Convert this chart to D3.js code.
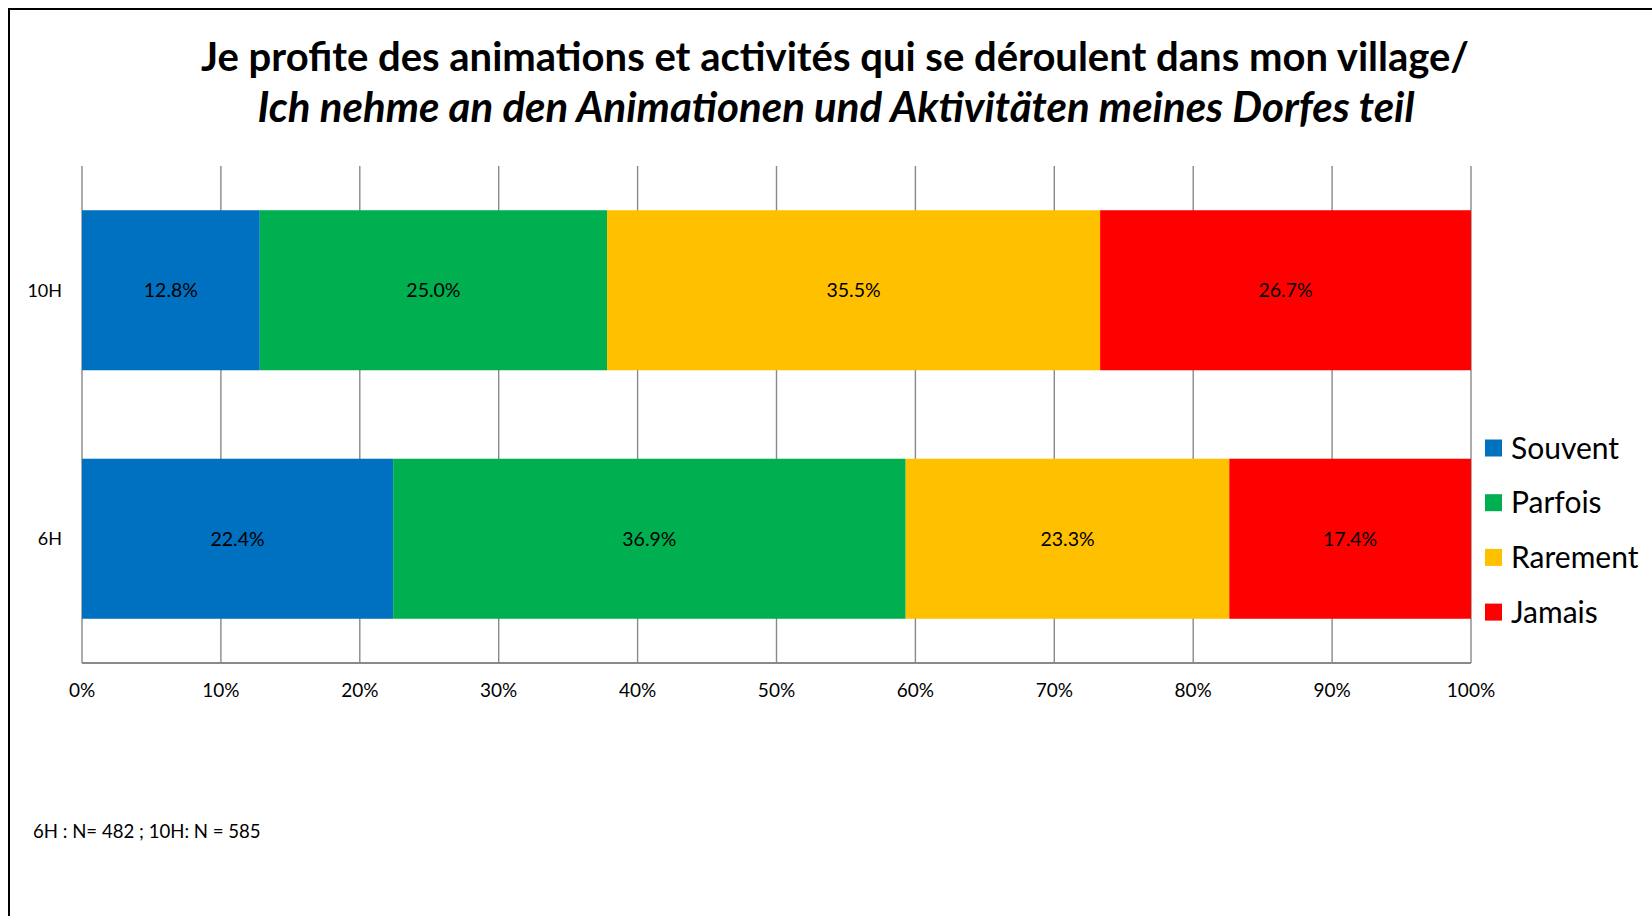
<!DOCTYPE html>
<html>
<head>
<meta charset="utf-8">
<style>
body { margin: 0; background: #fff; }
text { font-family: Lato, "Open Sans", sans-serif; fill: #000; }
.grid line { stroke: #898989; stroke-width: 1.4px; }
.axis-line { stroke: #898989; stroke-width: 2px; }
</style>
</head>
<body>
<svg width="1652" height="916"></svg>
<script src="https://cdn.jsdelivr.net/npm/d3@7"></script>
<script>
// data
var categories = ["10H", "6H"];
var answers = ["Souvent", "Parfois", "Rarement", "Jamais"];
var colors = ["#0070C0", "#00B050", "#FFC000", "#FF0000"];
var values10H = [12.8, 25.0, 35.5, 26.7];
var values6H = [22.4, 36.9, 23.3, 17.4];
var ticks = [0, 10, 20, 30, 40, 50, 60, 70, 80, 90, 100];
var titleFr = "Je profite des animations et activités qui se déroulent dans mon village/";
var titleDe = "Ich nehme an den Animationen und Aktivitäten meines Dorfes teil";
var footnote = "6H : N= 482 ; 10H: N = 585";

var rows = [
  { cat: "10H", vals: values10H },
  { cat: "6H", vals: values6H }
];

var svg = d3.select("svg");

// frame
svg.append("rect")
    .attr("x", 9).attr("y", 9)
    .attr("width", 1700).attr("height", 1000)
    .attr("fill", "none")
    .attr("stroke", "#000")
    .attr("stroke-width", 2);

var x = d3.scaleLinear().domain([0, 100]).range([82, 1471]);
var y = d3.scaleBand().domain(categories).range([166, 663])
    .paddingInner(0.356).paddingOuter(0.178);

// title
svg.append("text")
    .attr("x", 835).attr("y", 71)
    .attr("text-anchor", "middle")
    .style("font-size", "40px").style("font-weight", "bold")
    .text(titleFr);
svg.append("text")
    .attr("x", 836).attr("y", 122)
    .attr("text-anchor", "middle")
    .style("font-size", "42px").style("font-weight", "bold").style("font-style", "italic")
    .text(titleDe);

// gridlines
svg.append("g").attr("class", "grid")
  .selectAll("line")
  .data(ticks)
  .enter().append("line")
    .attr("x1", function(d) { return x(d); })
    .attr("x2", function(d) { return x(d); })
    .attr("y1", 166)
    .attr("y2", 663);

// stacked bars
rows.forEach(function(r) {
  var start = 0;
  var segs = r.vals.map(function(v, i) {
    var s = { x0: start, x1: start + v, v: v, i: i };
    start += v;
    return s;
  });
  var g = svg.append("g");
  g.selectAll("rect")
    .data(segs)
    .enter().append("rect")
      .attr("x", function(d) { return x(d.x0); })
      .attr("width", function(d) { return x(Math.min(d.x1, 100)) - x(d.x0); })
      .attr("y", y(r.cat))
      .attr("height", y.bandwidth())
      .attr("fill", function(d) { return colors[d.i]; });
  g.selectAll("text")
    .data(segs)
    .enter().append("text")
      .attr("x", function(d) { return x((d.x0 + Math.min(d.x1, 100)) / 2); })
      .attr("y", y(r.cat) + y.bandwidth() / 2)
      .attr("dy", "0.35em")
      .attr("text-anchor", "middle")
      .style("font-size", "19.5px")
      .text(function(d) { return d.v.toFixed(1) + "%"; });
});

// axis line
svg.append("line").attr("class", "axis-line")
    .attr("x1", x(0)).attr("x2", x(100))
    .attr("y1", 663).attr("y2", 663);

// tick labels
svg.append("g").selectAll("text")
  .data(ticks)
  .enter().append("text")
    .attr("x", function(d) { return x(d); })
    .attr("y", 697)
    .attr("text-anchor", "middle")
    .style("font-size", "19px")
    .text(function(d) { return d + "%"; });

// category labels
svg.append("g").selectAll("text")
  .data(categories)
  .enter().append("text")
    .attr("x", 62)
    .attr("y", function(d) { return y(d) + y.bandwidth() / 2; })
    .attr("dy", "0.35em")
    .attr("text-anchor", "end")
    .style("font-size", "18px")
    .text(function(d) { return d; });

// legend
var legend = svg.append("g").selectAll("g")
  .data(answers)
  .enter().append("g")
    .attr("transform", function(d, i) { return "translate(1485," + (448 + i * 54.7) + ")"; });
legend.append("rect")
    .attr("x", 0).attr("y", -8.5)
    .attr("width", 17).attr("height", 17)
    .attr("fill", function(d, i) { return colors[i]; });
legend.append("text")
    .attr("x", 26).attr("y", 0)
    .attr("dy", "0.35em")
    .style("font-size", "30px")
    .text(function(d) { return d; });

// footnote
svg.append("text")
    .attr("x", 33).attr("y", 838)
    .style("font-size", "18.6px")
    .text(footnote);
</script>
</body>
</html>
